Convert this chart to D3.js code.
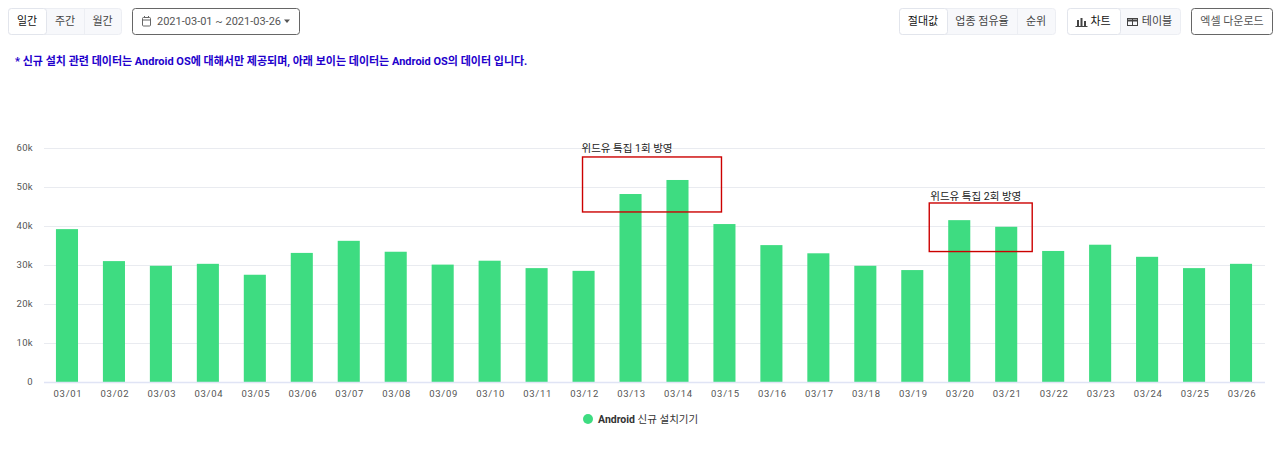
<!DOCTYPE html>
<html>
<head>
<meta charset="utf-8">
<script src="https://cdnjs.cloudflare.com/ajax/libs/d3/7.8.5/d3.min.js"></script>
<style>
  html, body { margin: 0; padding: 0; background: #fff; overflow: hidden; }
  svg { display: block; font-family: Roboto, "Noto Sans CJK KR", sans-serif; }
</style>
</head>
<body>
<svg id="chart" width="1280" height="462"></svg>
<script>
const dates = ['03/01','03/02','03/03','03/04','03/05','03/06','03/07','03/08','03/09','03/10','03/11','03/12','03/13',
  '03/14','03/15','03/16','03/17','03/18','03/19','03/20','03/21','03/22','03/23','03/24','03/25','03/26'];
const installs = [39200,31000,29800,30300,27500,33100,36200,33400,30100,31100,29200,28500,48200,
  51800,40500,35100,33000,29800,28700,41500,39800,33600,35200,32100,29200,30300];
const yTicks = [0,10000,20000,30000,40000,50000,60000];
const seriesName = 'Android 신규 설치기기';
const noticeText = '* 신규 설치 관련 데이터는 Android OS에 대해서만 제공되며, 아래 보이는 데이터는 Android OS의 데이터 입니다.';
const periodLabels = ['일간','주간','월간'];
const metricLabels = ['절대값','업종 점유율','순위'];
const viewLabels = ['차트','테이블'];
const dateRange = '2021-03-01 ~ 2021-03-26';
const downloadLabel = '엑셀 다운로드';
const notes = [
  { label: '위드유 특집 1회 방영', from: '03/13', to: '03/14', high: 57700, low: 43600 },
  { label: '위드유 특집 2회 방영', from: '03/20', to: '03/21', high: 45900, low: 33450 }
];

const svg = d3.select('#chart');
const x = d3.scaleBand().domain(dates).range([43.5, 1264.5]).paddingInner(0.53).paddingOuter(0.265);
const y = d3.scaleLinear().domain([0, 60000]).range([382, 148]);

// Grid lines
svg.append('g').selectAll('line').data(yTicks.slice(1)).join('line')
  .attr('x1', 44).attr('x2', 1265)
  .attr('y1', d => y(d) + 0.5).attr('y2', d => y(d) + 0.5)
  .attr('stroke', '#e9ebf0').attr('stroke-width', 1);

// Bars
svg.append('g').selectAll('rect').data(installs).join('rect')
  .attr('x', (d, i) => x(dates[i]))
  .attr('y', d => y(d))
  .attr('width', x.bandwidth())
  .attr('height', d => y(0) - y(d))
  .attr('fill', '#3edc81');

// Baseline
svg.append('line').attr('x1', 44).attr('x2', 1265).attr('y1', y(0) + 0.5).attr('y2', y(0) + 0.5)
  .attr('stroke', '#e0e4f5').attr('stroke-width', 1.5);

// Axis labels
svg.append('g').selectAll('text').data(yTicks).join('text')
  .attr('x', 33).attr('y', d => y(d) + 3).attr('text-anchor', 'end')
  .attr('font-size', 9.5).attr('letter-spacing', 0.3).attr('fill', '#555')
  .text(d => d === 0 ? '0' : d / 1000 + 'k');
svg.append('g').selectAll('text').data(dates).join('text')
  .attr('x', d => x(d) + x.bandwidth() / 2 + 1).attr('y', 397).attr('text-anchor', 'middle')
  .attr('font-size', 9.5).attr('letter-spacing', 0.7).attr('fill', '#555')
  .text(d => d);

// Legend
svg.append('circle').attr('cx', 588).attr('cy', 419).attr('r', 5).attr('fill', '#3edc81');
svg.append('text').attr('x', 598).attr('y', 423).attr('font-size', 10.5).attr('fill', '#333')
  .attr('font-weight', 700).text(seriesName.split(' ')[0])
  .append('tspan').attr('font-weight', 400).text(' ' + seriesName.split(' ').slice(1).join(' '));

// Red annotation boxes drawn over the bars
const notePads = [
  { left: 48, right: 44, labelDx: -1, labelDy: 5 },
  { left: 30, right: 26, labelDx: 1, labelDy: 3 }
];
notes.forEach((n, i) => {
  const pad = notePads[i];
  const x0 = x(n.from) + x.bandwidth() / 2 - pad.left;
  const x1 = x(n.to) + x.bandwidth() / 2 + pad.right;
  svg.append('rect').attr('x', x0).attr('y', y(n.high))
    .attr('width', x1 - x0).attr('height', y(n.low) - y(n.high))
    .attr('fill', 'none').attr('stroke', '#cc0000').attr('stroke-width', 1.4);
  svg.append('text').attr('x', x0 + pad.labelDx).attr('y', y(n.high) - pad.labelDy)
    .attr('font-size', 10.5).attr('fill', '#222').text(n.label);
});

// Notice line
svg.append('text').attr('x', 15).attr('y', 65).attr('font-size', 11).attr('font-weight', 700)
  .attr('fill', '#2200cc').text(noticeText);

// Toolbar: a segmented button group, first segment active
function buttonGroup(left, widths, labels) {
  const g = svg.append('g');
  const total = d3.sum(widths);
  g.append('rect').attr('x', left + 0.5).attr('y', 8.5).attr('width', total).attr('height', 26).attr('rx', 3)
    .attr('fill', '#f7f8fb').attr('stroke', '#eceef3');
  let cur = left;
  widths.forEach((w, i) => {
    if (i === 0) {
      g.append('rect').attr('x', cur + 0.5).attr('y', 8.5).attr('width', w).attr('height', 26).attr('rx', 3)
        .attr('fill', '#fff').attr('stroke', '#e2e5ec');
    } else if (i > 1) {
      g.append('line').attr('x1', cur + 0.5).attr('x2', cur + 0.5).attr('y1', 9).attr('y2', 34).attr('stroke', '#eceef3');
    }
    g.append('text').attr('x', cur + w / 2 + (labels[i].shift || 0)).attr('y', 25).attr('text-anchor', 'middle')
      .attr('font-size', 11).attr('fill', i === 0 ? '#111' : '#444').text(labels[i].text);
    cur += w;
  });
  return g;
}
buttonGroup(8, [38, 38, 37], periodLabels.map(t => ({ text: t })));
buttonGroup(899, [48, 70, 38], metricLabels.map(t => ({ text: t })));
const viewGroup = buttonGroup(1067, [53, 60], viewLabels.map(t => ({ text: t, shift: 7 })));

// Small chart icon
const iconColor = '#444';
[[1077, 6], [1080.5, 8], [1084, 5]].forEach(([ix, h]) => {
  viewGroup.append('rect').attr('x', ix).attr('y', 26 - h).attr('width', 2).attr('height', h).attr('fill', iconColor);
});
viewGroup.append('line').attr('x1', 1075.5).attr('x2', 1087.5).attr('y1', 26.5).attr('y2', 26.5).attr('stroke', iconColor);
// Small table icon
viewGroup.append('rect').attr('x', 1127.5).attr('y', 18.5).attr('width', 10).attr('height', 7).attr('fill', 'none').attr('stroke', iconColor);
viewGroup.append('line').attr('x1', 1127.5).attr('x2', 1137.5).attr('y1', 20.5).attr('y2', 20.5).attr('stroke', iconColor).attr('stroke-width', 2);
viewGroup.append('line').attr('x1', 1132.5).attr('x2', 1132.5).attr('y1', 19).attr('y2', 25).attr('stroke', iconColor);

// Date range picker
svg.append('rect').attr('x', 132.5).attr('y', 8.5).attr('width', 167).attr('height', 26).attr('rx', 3)
  .attr('fill', '#fff').attr('stroke', '#666');
svg.append('rect').attr('x', 142.5).attr('y', 17.5).attr('width', 8).attr('height', 8.5).attr('rx', 1)
  .attr('fill', 'none').attr('stroke', '#666');
svg.append('line').attr('x1', 142.5).attr('x2', 150.5).attr('y1', 20).attr('y2', 20).attr('stroke', '#666');
svg.append('line').attr('x1', 144.5).attr('x2', 144.5).attr('y1', 16).attr('y2', 18).attr('stroke', '#666');
svg.append('line').attr('x1', 148.5).attr('x2', 148.5).attr('y1', 16).attr('y2', 18).attr('stroke', '#666');
svg.append('text').attr('x', 157).attr('y', 25).attr('font-size', 11).attr('fill', '#555').text(dateRange);
svg.append('path').attr('d', d3.line()([[284, 19.5], [290, 19.5], [287, 23]])).attr('fill', '#555');

// Download button
svg.append('rect').attr('x', 1191.5).attr('y', 8.5).attr('width', 81).attr('height', 26).attr('rx', 3)
  .attr('fill', '#fff').attr('stroke', '#666');
svg.append('text').attr('x', 1232).attr('y', 25).attr('text-anchor', 'middle').attr('font-size', 11)
  .attr('fill', '#555').text(downloadLabel);
</script>
</body>
</html>
